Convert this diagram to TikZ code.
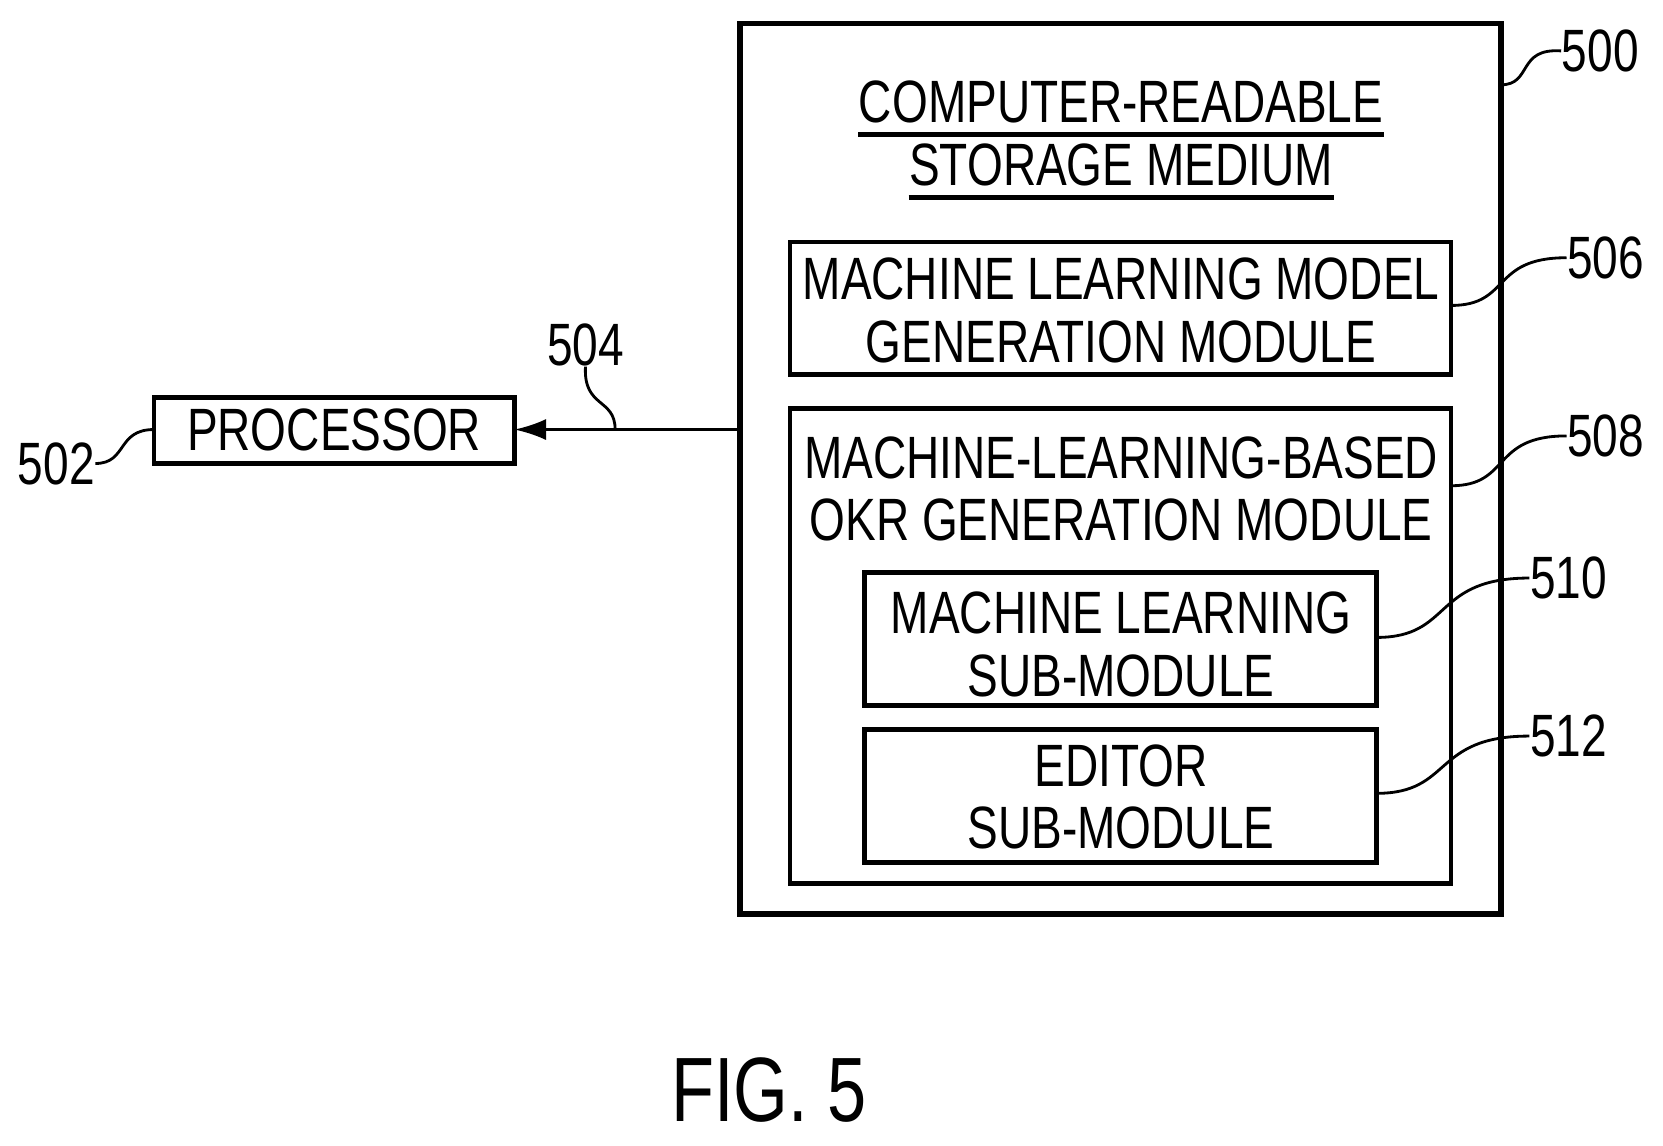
\documentclass[tikz,border=0pt]{standalone}
\usepackage{fontspec}
\setmainfont{Liberation Sans}[FakeStretch=0.77]
\usetikzlibrary{arrows.meta}
\newcommand{\thickul}[1]{\tikz[baseline=(u.base)]{\node[inner sep=0pt] (u) {#1}; \draw[line width=1.4pt] ([yshift=-3pt]u.south west) -- ([yshift=-3pt]u.south east);}}
\begin{document}
\begin{tikzpicture}[x=0.0106cm,y=-0.0106cm]
  \tikzstyle{module}=[draw, line width=1.3pt]
  \tikzstyle{txt}=[font=\fontsize{17}{17}\selectfont, inner sep=0pt]
  \tikzstyle{lead}=[line width=0.8pt]
  \tikzstyle{ref}=[font=\fontsize{17}{17}\selectfont, inner sep=0pt, anchor=west]
  \useasboundingbox (0,0) rectangle (1568,1080);

  % Boxes
  \draw[module, line width=1.6pt] (698,22) rectangle (1415,862);
  \draw[module] (745,228) rectangle (1368,353);
  \draw[module] (745,385) rectangle (1368,833);
  \draw[module] (815,540) rectangle (1298,665);
  \draw[module] (815,688) rectangle (1298,813);
  \draw[module] (145,375) rectangle (485,437);

  % Texts
  \node[txt] (title1) at (1057,103) {\thickul{COMPUTER-READABLE}};
  \node[txt] (title2) at (1057,162) {\thickul{STORAGE MEDIUM}};
  \node[txt] (mlm1) at (1057,263) {MACHINE LEARNING MODEL};
  \node[txt] (mlm2) at (1057,322) {GENERATION MODULE};
  \node[txt] (okr1) at (1057,432) {MACHINE-LEARNING-BASED};
  \node[txt] (okr2) at (1057,490) {OKR GENERATION MODULE};
  \node[txt] (sub1) at (1057,578) {MACHINE LEARNING};
  \node[txt] (sub2) at (1057,637) {SUB-MODULE};
  \node[txt] (ed1) at (1057,722) {EDITOR};
  \node[txt] (ed2) at (1057,781) {SUB-MODULE};
  \node[txt] (proc) at (315,405) {PROCESSOR};
  \node[font=\fontsize{26}{26}\selectfont, inner sep=0pt] (fig) at (725,1028) {FIG. 5};

  % Connection
  \coordinate (bus) at (698,405);
  \coordinate (procR) at (485,405);
  \draw[lead, -{Latex[length=9pt,width=6pt]}] (bus) -- (procR);

  % Reference numerals
  \node[ref] (r500) at (1472,48) {500};
  \node[ref] (r506) at (1477,243) {506};
  \node[ref] (r508) at (1477,411) {508};
  \node[ref] (r510) at (1442,545) {510};
  \node[ref] (r512) at (1442,694) {512};
  \node[txt] (r504) at (552,325) {504};
  \node[ref, anchor=east] (r502) at (90,437) {502};

  \draw[lead] (1415,80) .. controls (1445,80) and (1430,45) .. (r500.west);
  \draw[lead] (1368,288) .. controls (1425,288) and (1405,243) .. (r506.west);
  \draw[lead] (1368,458) .. controls (1425,458) and (1405,411) .. (r508.west);
  \draw[lead] (1298,601) .. controls (1370,601) and (1350,545) .. (r510.west);
  \draw[lead] (1298,748) .. controls (1370,748) and (1350,694) .. (r512.west);
  \draw[lead] (580,405) .. controls (580,375) and (550,385) .. (r504.south);
  \draw[lead] (r502.east) .. controls (120,437) and (110,405) .. (145,405);
\end{tikzpicture}
\end{document}
